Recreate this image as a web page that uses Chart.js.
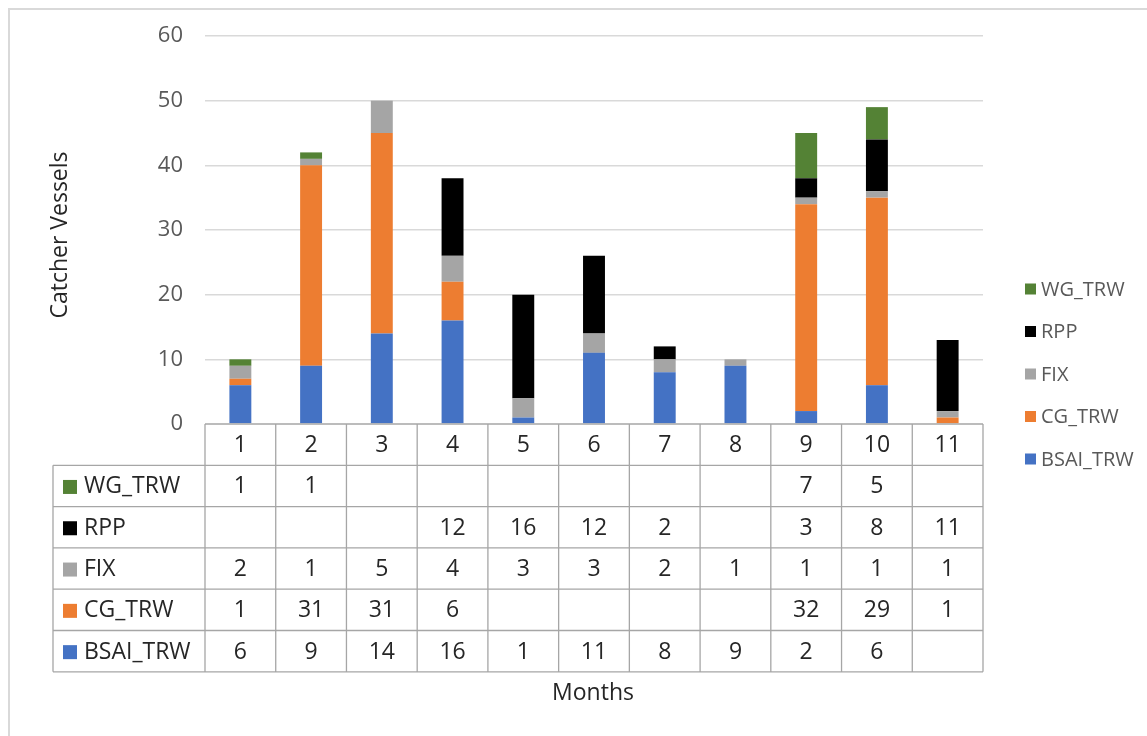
<!DOCTYPE html>
<html>
<head>
<meta charset="utf-8">
<title>Catcher Vessels by Month</title>
<script src="https://cdn.jsdelivr.net/npm/chart.js@4/dist/chart.umd.min.js"></script>
<style>
  html, body { margin: 0; padding: 0; background: #ffffff; }
  #wrap { position: relative; width: 1147px; height: 736px; }
  canvas { display: block; }
</style>
</head>
<body>
<div id="wrap"><canvas id="chart" width="1147" height="736"></canvas></div>
<script>
// Months shown along the category axis / data table header
const months = ['1', '2', '3', '4', '5', '6', '7', '8', '9', '10', '11'];

// Vessel counts per fishery sector (null = no vessels that month)
const bsaiTrw = [6, 9, 14, 16, 1, 11, 8, 9, 2, 6, null];
const cgTrw   = [1, 31, 31, 6, null, null, null, null, 32, 29, 1];
const fix     = [2, 1, 5, 4, 3, 3, 2, 1, 1, 1, 1];
const rpp     = [null, null, null, 12, 16, 12, 2, null, 3, 8, 11];
const wgTrw   = [1, 1, null, null, null, null, null, null, 7, 5, null];

const yTicks = [0, 10, 20, 30, 40, 50, 60];

const FONT = '"Open Sans", "Liberation Sans", sans-serif';

const datasets = [
  { label: 'BSAI_TRW', data: bsaiTrw, backgroundColor: '#4472c4' },
  { label: 'CG_TRW',   data: cgTrw,   backgroundColor: '#ed7d31' },
  { label: 'FIX',      data: fix,     backgroundColor: '#a5a5a5' },
  { label: 'RPP',      data: rpp,     backgroundColor: '#000000' },
  { label: 'WG_TRW',   data: wgTrw,   backgroundColor: '#548235' }
].map(d => Object.assign(d, { barPercentage: 0.31, categoryPercentage: 1.0, borderWidth: 0 }));

// Draws the frame, the data table under the plot, the side legend and the axis titles
const tablePlugin = {
  id: 'dataTable',
  afterDraw(chart) {
    const ctx = chart.ctx;
    const area = chart.chartArea;
    const xs = chart.scales.x;
    const n = months.length;
    const colW = (area.right - area.left) / n;
    const rowH = 41.3;
    const labelLeft = 53;
    const top = area.bottom;
    const rows = chart.data.datasets.slice().reverse();
    const tableBottom = top + rowH * (rows.length + 1);

    ctx.save();

    // outer chart frame
    ctx.strokeStyle = '#d9d9d9';
    ctx.lineWidth = 2;
    ctx.beginPath();
    ctx.moveTo(9, 736);
    ctx.lineTo(9, 9);
    ctx.lineTo(1147, 9);
    ctx.stroke();

    // table grid
    ctx.strokeStyle = '#a6a6a6';
    ctx.lineWidth = 1.3;
    ctx.beginPath();
    // header row top line (axis line)
    ctx.moveTo(area.left, top);
    ctx.lineTo(area.right, top);
    for (let r = 1; r <= rows.length + 1; r++) {
      const y = top + rowH * r;
      ctx.moveTo(labelLeft, y);
      ctx.lineTo(area.right, y);
    }
    // vertical lines
    ctx.moveTo(labelLeft, top + rowH);
    ctx.lineTo(labelLeft, tableBottom);
    for (let c = 0; c <= n; c++) {
      const x = area.left + colW * c;
      ctx.moveTo(x, top);
      ctx.lineTo(x, tableBottom);
    }
    ctx.stroke();

    // header row: month numbers
    ctx.fillStyle = '#262626';
    ctx.font = '23px ' + FONT;
    ctx.textAlign = 'center';
    ctx.textBaseline = 'middle';
    months.forEach((m, i) => {
      ctx.fillText(m, xs.getPixelForValue(i), top + rowH / 2 + 1);
    });

    // data rows
    rows.forEach((ds, r) => {
      const cy = top + rowH * (r + 1.5) + 1;
      // swatch + series name
      ctx.fillStyle = ds.backgroundColor;
      ctx.fillRect(63, cy - 7, 14, 14);
      ctx.fillStyle = '#262626';
      ctx.textAlign = 'left';
      ctx.fillText(ds.label, 84, cy);
      ctx.textAlign = 'center';
      ds.data.forEach((v, i) => {
        if (v !== null && v !== undefined) {
          ctx.fillText(String(v), xs.getPixelForValue(i), cy);
        }
      });
    });

    // side legend
    ctx.font = '20px ' + FONT;
    ctx.textAlign = 'left';
    rows.forEach((ds, r) => {
      const cy = 289 + r * 42.5;
      ctx.fillStyle = ds.backgroundColor;
      ctx.fillRect(1025, cy - 5.5, 11, 11);
      ctx.fillStyle = '#595959';
      ctx.fillText(ds.label, 1041, cy + 1);
    });

    // axis titles
    ctx.fillStyle = '#262626';
    ctx.font = '23px ' + FONT;
    ctx.textAlign = 'center';
    ctx.fillText('Months', (area.left + area.right) / 2 - 1, 693);
    ctx.translate(60, (area.top + area.bottom) / 2 + 5);
    ctx.rotate(-Math.PI / 2);
    ctx.fillText('Catcher Vessels', 0, 0);

    ctx.restore();
  }
};

new Chart(document.getElementById('chart'), {
  type: 'bar',
  data: { labels: months, datasets },
  options: {
    responsive: false,
    animation: false,
    layout: { padding: { left: 20, right: 164, top: 36, bottom: 312 } },
    plugins: {
      legend: { display: false },
      tooltip: { enabled: false }
    },
    scales: {
      x: {
        stacked: true,
        ticks: { display: false },
        grid: { display: false },
        border: { display: false },
        afterFit(scale) { scale.height = 0; }
      },
      y: {
        stacked: true,
        min: 0,
        max: 60,
        afterBuildTicks(scale) { scale.ticks = yTicks.map(v => ({ value: v })); },
        ticks: {
          color: '#595959',
          font: { family: FONT, size: 22 },
          padding: 22
        },
        grid: {
          color: ctx => ctx.tick.value === 0 ? 'rgba(0,0,0,0)' : '#d9d9d9',
          lineWidth: 1.6,
          drawTicks: false
        },
        border: { display: false },
        afterFit(scale) { scale.width = 185; }
      }
    }
  },
  plugins: [tablePlugin]
});
</script>
</body>
</html>
